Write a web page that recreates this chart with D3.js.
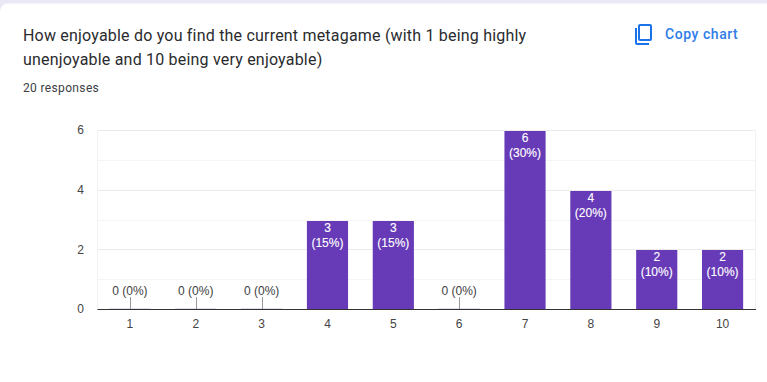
<!DOCTYPE html>
<html>
<head>
<meta charset="utf-8">
<script src="https://d3js.org/d3.v7.min.js"></script>
<style>
	html, body { margin: 0; padding: 0; background: #fff; overflow: hidden; }
	svg { display: block; }
	text { font-family: "Liberation Sans", Arial, sans-serif; }
	.head { font-family: Roboto, sans-serif; }
</style>
</head>
<body>
<script>

var categories = ["1", "2", "3", "4", "5", "6", "7", "8", "9", "10"];
var counts = [0, 0, 0, 3, 3, 0, 6, 4, 2, 2];
var percents = [0, 0, 0, 15, 15, 0, 30, 20, 10, 10];
var titleLines = [
	"How enjoyable do you find the current metagame (with 1 being highly",
	"unenjoyable and 10 being very enjoyable)"
];
var yTicks = [0, 2, 4, 6];
var yMinorTicks = [1, 3, 5];

var width = 767,
		height = 382,
		plotLeft = 97,
		plotRight = 755.5,
		plotTop = 130.5,
		plotBottom = 309.5;

var svg = d3.select("body").append("svg")
	.attr("width", width)
	.attr("height", height);

// lavender page behind the card
svg.append("rect")
	.attr("width", width)
	.attr("height", height)
	.attr("fill", "#ebe8f6");

svg.append("rect")
	.attr("x", 0)
	.attr("y", 3.5)
	.attr("width", width + 20)
	.attr("height", height + 20)
	.attr("rx", 8)
	.attr("fill", "#fff");

svg.selectAll(".title")
	.data(titleLines)
	.enter().append("text")
	.attr("class", "title head")
	.attr("x", 23)
	.attr("y", function(d, i) {return 41 + i * 24})
	.attr("font-size", 16)
	.attr("letter-spacing", 0.2)
	.attr("fill", "#2a2b2e")
	.text(function(d) {return d});

svg.append("text")
	.attr("class", "head")
	.attr("x", 23)
	.attr("y", 92)
	.attr("font-size", 12)
	.attr("letter-spacing", 0.35)
	.attr("fill", "#3c4043")
	.text("20 responses");

// copy icon
var icon = svg.append("g")
	.attr("transform", "translate(633,22)")
	.attr("fill", "none")
	.attr("stroke", "#1a73e8")
	.attr("stroke-width", 2);
icon.append("rect")
	.attr("x", 6)
	.attr("y", 3)
	.attr("width", 12)
	.attr("height", 15)
	.attr("rx", 1);
icon.append("path")
	.attr("d", "M3,6V21a1,1 0 0 0 1,1H16");

svg.append("text")
	.attr("class", "head")
	.attr("x", 665)
	.attr("y", 39)
	.attr("font-size", 14)
	.attr("font-weight", 500)
	.attr("letter-spacing", 0.55)
	.attr("fill", "#2f7de9")
	.text("Copy chart");

var x = d3.scaleBand()
	.domain(categories)
	.range([plotLeft, plotRight])
	.paddingInner(0.375)
	.paddingOuter(0.1875);

var y = d3.scaleLinear()
	.domain([0, 6])
	.range([plotBottom, plotTop]);

// gridlines sit on whole pixel rows, bars start on the row below
function gridY(d) {return Math.floor(y(d)) + 0.5}
function barTop(d) {return Math.floor(y(d)) + 1}

svg.append("g").selectAll("line")
	.data(yMinorTicks)
	.enter().append("line")
	.attr("x1", plotLeft)
	.attr("x2", plotRight)
	.attr("y1", gridY)
	.attr("y2", gridY)
	.attr("stroke", "#f5f5f5");

svg.append("g").selectAll("line")
	.data(yTicks.slice(1))
	.enter().append("line")
	.attr("x1", plotLeft)
	.attr("x2", plotRight)
	.attr("y1", gridY)
	.attr("y2", gridY)
	.attr("stroke", "#ebebeb");

svg.append("line")
	.attr("x1", plotLeft + 0.5)
	.attr("x2", plotLeft + 0.5)
	.attr("y1", plotTop)
	.attr("y2", plotBottom)
	.attr("stroke", "#f2f2f2");
svg.append("line")
	.attr("x1", plotRight)
	.attr("x2", plotRight)
	.attr("y1", plotTop)
	.attr("y2", plotBottom)
	.attr("stroke", "#f2f2f2");

var rows = categories.map(function(c, i) {
	return {cat: c, count: counts[i], pct: percents[i]};
});

// bars
svg.append("g").selectAll("rect")
	.data(rows.filter(function(d) {return d.count > 0}))
	.enter().append("rect")
	.attr("x", function(d) {return x(d.cat)})
	.attr("y", function(d) {return barTop(d.count)})
	.attr("width", x.bandwidth())
	.attr("height", function(d) {return plotBottom - barTop(d.count)})
	.attr("fill", "#673ab7");

// zero rows only get a faint sliver, a stub and a label above it
var zeros = rows.filter(function(d) {return d.count === 0});

svg.append("g").selectAll("rect")
	.data(zeros)
	.enter().append("rect")
	.attr("x", function(d) {return x(d.cat)})
	.attr("y", plotBottom - 1.5)
	.attr("width", x.bandwidth())
	.attr("height", 1)
	.attr("fill", "#e3dcf5");

svg.append("g").selectAll("line")
	.data(zeros)
	.enter().append("line")
	.attr("x1", function(d) {return Math.round(x(d.cat) + x.bandwidth() / 2) + 0.5})
	.attr("x2", function(d) {return Math.round(x(d.cat) + x.bandwidth() / 2) + 0.5})
	.attr("y1", 297)
	.attr("y2", plotBottom)
	.attr("stroke", "#999");

svg.append("g").selectAll("text")
	.data(zeros)
	.enter().append("text")
	.attr("x", function(d) {return x(d.cat) + x.bandwidth() / 2})
	.attr("y", 295)
	.attr("text-anchor", "middle")
	.attr("font-size", 12)
	.attr("fill", "#404040")
	.text(function(d) {return d.count + " (" + d.pct + "%)"});

// labels inside bars
var labels = svg.append("g").selectAll("text")
	.data(rows.filter(function(d) {return d.count > 0}))
	.enter().append("text")
	.attr("text-anchor", "middle")
	.attr("font-size", 12)
	.attr("fill", "#fff")
	.attr("stroke", "#fff")
	.attr("stroke-width", 0.12);

labels.append("tspan")
	.attr("x", function(d) {return x(d.cat) + x.bandwidth() / 2})
	.attr("y", function(d) {return barTop(d.count) + 11})
	.text(function(d) {return d.count});
labels.append("tspan")
	.attr("x", function(d) {return x(d.cat) + x.bandwidth() / 2})
	.attr("y", function(d) {return barTop(d.count) + 26})
	.text(function(d) {return "(" + d.pct + "%)"});

// axes
var xAxis = svg.append("g")
	.attr("transform", "translate(0," + (plotBottom - 0.5) + ")")
	.call(d3.axisBottom(x).tickSize(0).tickPadding(10));
xAxis.select(".domain").attr("stroke", "#333");
xAxis.selectAll("text")
	.attr("font-size", 12)
	.attr("font-family", "Liberation Sans, Arial, sans-serif")
	.attr("fill", "#444");

var yAxis = svg.append("g")
	.attr("transform", "translate(" + plotLeft + ",-0.5)")
	.call(d3.axisLeft(y).tickValues(yTicks).tickFormat(d3.format("d")).tickSize(0).tickPadding(13));
yAxis.select(".domain").remove();
yAxis.selectAll("text")
	.attr("font-size", 12)
	.attr("font-family", "Liberation Sans, Arial, sans-serif")
	.attr("fill", "#444");

</script>
</body>
</html>
